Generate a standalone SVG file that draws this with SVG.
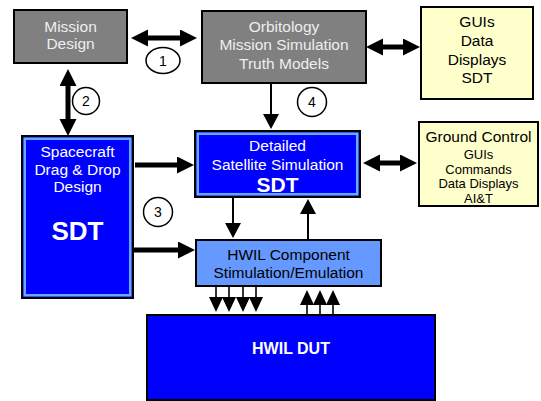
<svg xmlns="http://www.w3.org/2000/svg" width="541" height="401" viewBox="0 0 541 401">
<style>
text{font-family:"Liberation Sans",Arial,sans-serif;text-anchor:middle}
.gray{fill:#808080;stroke:#000;stroke-width:2}
.yel{fill:#ffffcc;stroke:#000;stroke-width:2}
.blue{fill:#0000ff;stroke:#000;stroke-width:2}
.inner{fill:none;stroke:#66aaff;stroke-width:2.5}
.hw{fill:#6699ff;stroke:#000;stroke-width:2}
.gt{fill:#eeeeee;font-size:15.5px}
.wt{fill:#ffffff;font-size:15.5px}
.bt{fill:#000;font-size:15.5px}
.st{fill:#000;font-size:13px}
.nt{fill:#000;font-size:14px}
.thick{stroke:#000;stroke-width:5;fill:none}
.thin{stroke:#000;stroke-width:2;fill:none}
.sm{stroke:#000;stroke-width:1.6;fill:none}
.num{fill:#fff;stroke:#000;stroke-width:1.5}
</style>
<defs>
<marker id="hk" markerUnits="userSpaceOnUse" markerWidth="20" markerHeight="20" refX="1" refY="8.5" orient="auto-start-reverse"><path d="M0,0 L17,8.5 L0,17 z" fill="#000"/></marker>
<marker id="hn" markerUnits="userSpaceOnUse" markerWidth="17" markerHeight="17" refX="1" refY="8" orient="auto"><path d="M0,0 L15,8 L0,16 z" fill="#000"/></marker>
<marker id="hs" markerUnits="userSpaceOnUse" markerWidth="16" markerHeight="16" refX="1" refY="7" orient="auto"><path d="M0,0 L15,7 L0,14 z" fill="#000"/></marker>
</defs>
<g id="connectors">
<line class="thick" x1="147" y1="38" x2="181" y2="38" marker-start="url(#hk)" marker-end="url(#hk)"/>
<line class="thick" x1="382" y1="47" x2="404" y2="47" marker-start="url(#hk)" marker-end="url(#hk)"/>
<line class="thick" x1="68" y1="85" x2="68" y2="120" marker-start="url(#hk)" marker-end="url(#hk)"/>
<line class="thick" x1="379" y1="163" x2="401" y2="163" marker-start="url(#hk)" marker-end="url(#hk)"/>
<line class="thick" x1="135" y1="165" x2="178" y2="165" marker-end="url(#hk)"/>
<line class="thick" x1="133" y1="250" x2="179" y2="250" marker-end="url(#hk)"/>
<line class="thin" x1="271" y1="83" x2="271" y2="115" marker-end="url(#hn)"/>
<line class="thin" x1="233" y1="198" x2="233" y2="224" marker-end="url(#hn)"/>
<line class="thin" x1="308" y1="240" x2="308" y2="213" marker-end="url(#hn)"/>
<line class="sm" x1="216" y1="287" x2="216" y2="298" marker-end="url(#hs)"/>
<line class="sm" x1="229" y1="287" x2="229" y2="298" marker-end="url(#hs)"/>
<line class="sm" x1="243" y1="287" x2="243" y2="298" marker-end="url(#hs)"/>
<line class="sm" x1="256" y1="287" x2="256" y2="298" marker-end="url(#hs)"/>
<line class="sm" x1="307" y1="315" x2="307" y2="304" marker-end="url(#hs)"/>
<line class="sm" x1="320" y1="315" x2="320" y2="304" marker-end="url(#hs)"/>
<line class="sm" x1="333" y1="315" x2="333" y2="304" marker-end="url(#hs)"/>
</g>
<g id="label1"><ellipse class="num" cx="163" cy="60.5" rx="17" ry="13"/><text class="nt" x="163" y="66">1</text></g>
<g id="label2"><circle class="num" cx="86" cy="101" r="13.5"/><text class="nt" x="86" y="106">2</text></g>
<g id="label3"><circle class="num" cx="158" cy="212" r="14.5"/><text class="nt" x="158" y="217">3</text></g>
<g id="label4"><circle class="num" cx="312" cy="102" r="14.5"/><text class="nt" x="312" y="107">4</text></g>
<g id="mission-design">
<rect class="gray" x="14" y="10" width="113" height="53"/>
<text class="gt" x="70.5" y="31.5">Mission</text>
<text class="gt" x="70.5" y="49">Design</text>
</g>
<g id="orbitology">
<rect class="gray" x="202" y="11" width="164" height="72"/>
<text class="gt" x="284" y="31.5">Orbitology</text>
<text class="gt" x="284" y="50">Mission Simulation</text>
<text class="gt" x="284" y="68.5">Truth Models</text>
</g>
<g id="guis">
<rect class="yel" x="421" y="7" width="112" height="92"/>
<text class="bt" x="477" y="26.5">GUIs</text>
<text class="bt" x="477" y="45.5">Data</text>
<text class="bt" x="477" y="64.5">Displays</text>
<text class="bt" x="477" y="83">SDT</text>
</g>
<g id="ground-control">
<rect class="yel" x="419" y="122" width="119" height="84"/>
<text class="bt" x="478.5" y="141.5">Ground Control</text>
<text class="st" x="478.5" y="159">GUIs</text>
<text class="st" x="478.5" y="173.5">Commands</text>
<text class="st" x="478.5" y="188">Data Displays</text>
<text class="st" x="478.5" y="202.5">AI&amp;T</text>
</g>
<g id="satellite-sim">
<rect class="blue" x="195" y="131" width="165" height="66"/>
<rect class="inner" x="197.75" y="133.75" width="159.5" height="60.5"/>
<text class="wt" x="277.5" y="150.8">Detailed</text>
<text class="wt" x="277.5" y="169.8">Satellite Simulation</text>
<text class="wt" x="277.5" y="191.7" style="font-size:21px;font-weight:bold">SDT</text>
</g>
<g id="spacecraft">
<rect class="blue" x="22" y="136" width="111" height="162"/>
<rect class="inner" x="24.75" y="138.75" width="105.5" height="156.5"/>
<text class="wt" x="77.5" y="156.5">Spacecraft</text>
<text class="wt" x="77.5" y="175">Drag &amp; Drop</text>
<text class="wt" x="77.5" y="192.3">Design</text>
<text class="wt" x="77.5" y="240.3" style="font-size:26px;font-weight:bold">SDT</text>
</g>
<g id="hwil-component">
<rect class="hw" x="196" y="240" width="185" height="46"/>
<text class="bt" x="288.5" y="260">HWIL Component</text>
<text class="bt" x="288.5" y="278.3">Stimulation/Emulation</text>
</g>
<g id="hwil-dut">
<rect class="blue" x="147" y="315" width="288" height="85"/>
<text class="wt" x="291" y="353.8" style="font-size:16px;font-weight:bold">HWIL DUT</text>
</g>
</svg>
